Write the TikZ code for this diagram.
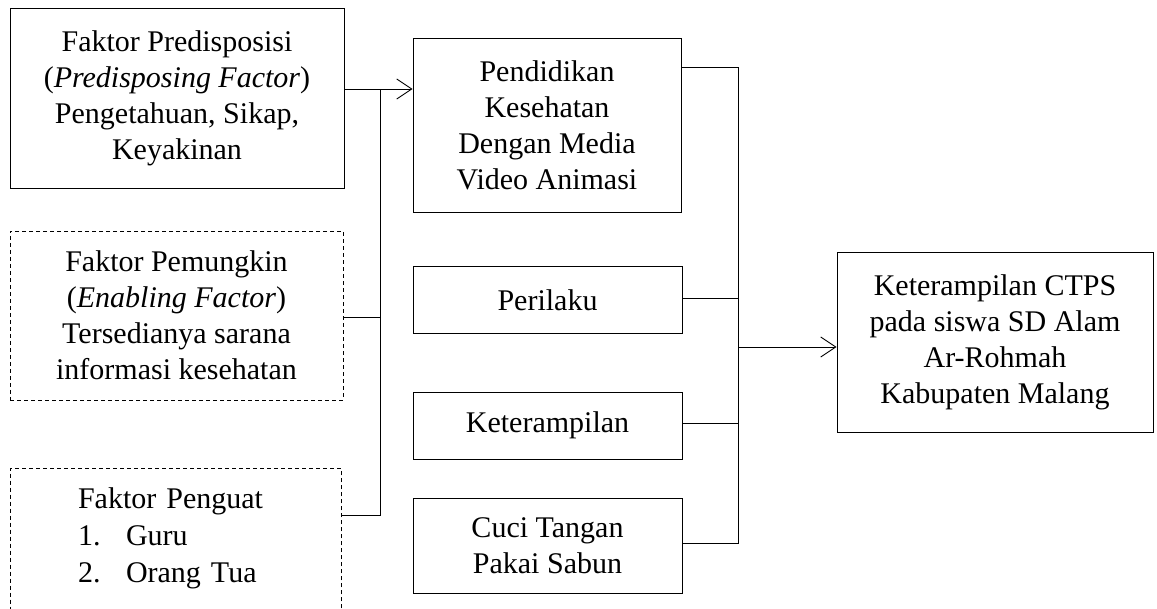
\documentclass[tikz,border=0pt]{standalone}
\usepackage{fontspec}
\setmainfont{Liberation Serif}
\usetikzlibrary{arrows.meta, positioning}

\begin{document}
\begin{tikzpicture}[x=1pt, y=-1pt,
    kotak/.style={draw, line width=0.9pt, align=center, inner sep=0pt,
        font=\fontsize{30}{36}\selectfont},
    kotakputus/.style={kotak, dash pattern=on 4pt off 3pt},
    garis/.style={line width=0.9pt},
    panah/.style={garis, -{Straight Barb[length=15pt, width=20pt]}}]
    \clip (0,0) rectangle (1157,609);
    \node[kotak, minimum width=334, minimum height=180] (predisposisi) at (177,98)
        {Faktor Predisposisi\\(\textit{Predisposing Factor})\\Pengetahuan, Sikap,\\Keyakinan};
    \node[kotakputus, minimum width=333, minimum height=169] (pemungkin) at (176.5,315.5)
        {Faktor Pemungkin\\(\textit{Enabling Factor})\\Tersedianya sarana\\informasi kesehatan};
    \node[kotakputus, anchor=north, minimum width=331, inner ysep=19, text width=195, align=left] (penguat) at (175.5,468)
        {Faktor Penguat\\[1pt]\makebox[48pt][l]{1.}Guru\\[1pt]\makebox[48pt][l]{2.}Orang Tua\rule[-40pt]{0pt}{1pt}};
    \node[kotak, minimum width=268, minimum height=174] (pendidikan) at (547,125)
        {Pendidikan\\Kesehatan\\Dengan Media\\Video Animasi};
    \node[kotak, minimum width=269, minimum height=67] (perilaku) at (547.5,300) {Perilaku};
    \node[kotak, minimum width=269, minimum height=67] (keterampilan) at (547.5,425.5) {Keterampilan};
    \node[kotak, minimum width=269, minimum height=95] (cuci) at (547.5,545.5) {Cuci Tangan\\Pakai Sabun};
    \node[kotak, minimum width=316, minimum height=180] (hasil) at (995,342)
        {Keterampilan CTPS\\pada siswa SD Alam\\Ar-Rohmah\\Kabupaten Malang};
    \coordinate (simpul1) at (380,89);
    \coordinate (simpul2) at (738,347);
    \draw[panah] ([yshift=9]predisposisi.east) -- ([yshift=36]pendidikan.west);
    \draw[garis] ([yshift=-1.5]pemungkin.east) -| (simpul1);
    \draw[garis] ([yshift=-47]penguat.north east) -| (simpul1);
    \draw[garis] ([yshift=58]pendidikan.east) -| (simpul2);
    \foreach \n in {perilaku, keterampilan, cuci} {
        \draw[garis] ([yshift=2]\n.east) -| (simpul2);
    }
    \draw[panah] (simpul2) -- ([yshift=-5]hasil.west);
\end{tikzpicture}
\end{document}
